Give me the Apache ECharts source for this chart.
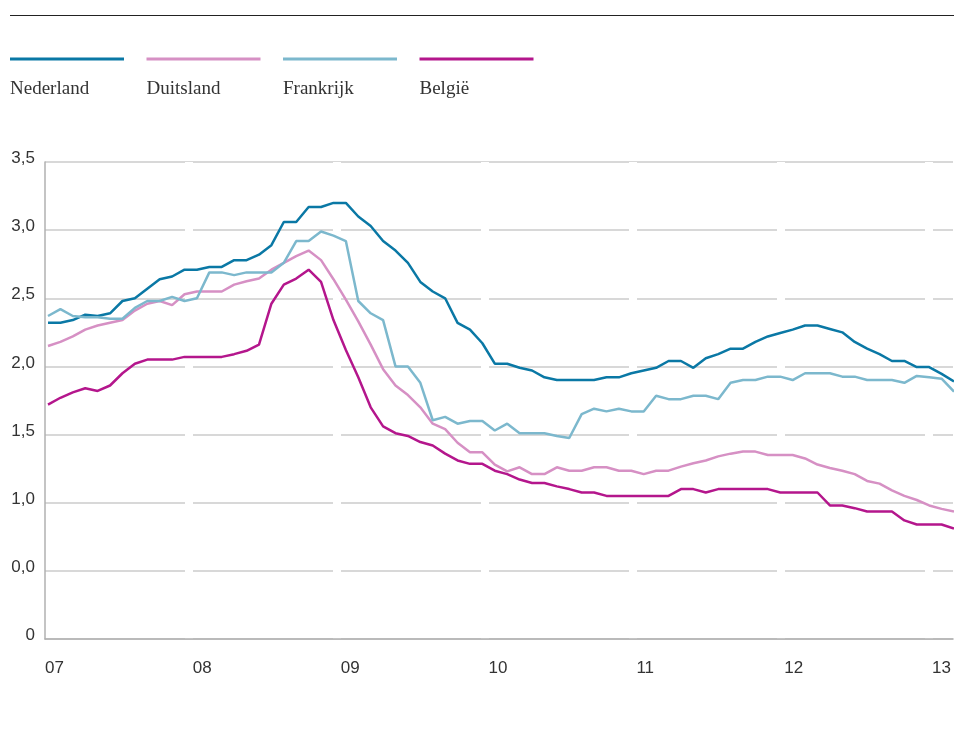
<!DOCTYPE html>
<html>
<head>
<meta charset="utf-8">
<title>Nederland, Duitsland, Frankrijk, België</title>
<script src="https://cdn.jsdelivr.net/npm/echarts@6/dist/echarts.min.js"></script>
<style>
  html, body { margin: 0; padding: 0; background: #fff; }
  #chart { width: 954px; height: 734px; }
</style>
</head>
<body>
<div id="chart"></div>
<script>
// maandcijfers, jan 2007 t/m feb 2013
var nederland = [2.32, 2.32, 2.34, 2.38, 2.37, 2.39, 2.48, 2.50, 2.57, 2.64, 2.66, 2.71,
  2.71, 2.73, 2.73, 2.78, 2.78, 2.82, 2.89, 3.06, 3.06, 3.17, 3.17, 3.20,
  3.20, 3.10, 3.03, 2.92, 2.85, 2.76, 2.62, 2.55, 2.50, 2.32, 2.27, 2.17,
  2.02, 2.02, 1.99, 1.97, 1.92, 1.90, 1.90, 1.90, 1.90, 1.92, 1.92, 1.95,
  1.97, 1.99, 2.04, 2.04, 1.99, 2.06, 2.09, 2.13, 2.13, 2.18, 2.22, 2.245,
  2.27, 2.30, 2.30, 2.275, 2.25, 2.18, 2.13, 2.09, 2.04, 2.04, 1.995, 1.995,
  1.945, 1.89];
var duitsland = [2.15, 2.18, 2.22, 2.27, 2.30, 2.32, 2.34, 2.41, 2.46, 2.48, 2.45, 2.53,
  2.55, 2.55, 2.55, 2.60, 2.625, 2.645, 2.71, 2.76, 2.81, 2.85, 2.78, 2.64,
  2.49, 2.33, 2.16, 1.98, 1.86, 1.79, 1.70, 1.58, 1.54, 1.44, 1.37, 1.37,
  1.28, 1.23, 1.26, 1.21, 1.21, 1.26, 1.235, 1.235, 1.26, 1.26, 1.235, 1.235,
  1.21, 1.235, 1.235, 1.265, 1.29, 1.31, 1.34, 1.36, 1.375, 1.375, 1.35, 1.35,
  1.35, 1.325, 1.28, 1.255, 1.235, 1.21, 1.16, 1.14, 1.09, 1.05, 1.02, 0.98,
  0.955, 0.935];
var frankrijk = [2.37, 2.42, 2.37, 2.36, 2.36, 2.35, 2.35, 2.43, 2.48, 2.48, 2.51, 2.48,
  2.50, 2.69, 2.69, 2.67, 2.69, 2.69, 2.69, 2.76, 2.92, 2.92, 2.99, 2.96,
  2.92, 2.48, 2.39, 2.34, 2.00, 2.00, 1.88, 1.605, 1.63, 1.58, 1.60, 1.60,
  1.53, 1.58, 1.51, 1.51, 1.51, 1.49, 1.475, 1.65, 1.69, 1.67, 1.69, 1.67,
  1.67, 1.785, 1.76, 1.76, 1.785, 1.785, 1.76, 1.88, 1.90, 1.90, 1.925, 1.925,
  1.90, 1.95, 1.95, 1.95, 1.925, 1.925, 1.90, 1.90, 1.90, 1.88, 1.93, 1.92,
  1.91, 1.815];
var belgie = [1.72, 1.77, 1.81, 1.84, 1.82, 1.86, 1.95, 2.02, 2.05, 2.05, 2.05, 2.07,
  2.07, 2.07, 2.07, 2.09, 2.115, 2.16, 2.46, 2.60, 2.645, 2.71, 2.62, 2.34,
  2.12, 1.92, 1.70, 1.56, 1.51, 1.49, 1.445, 1.42, 1.36, 1.31, 1.285, 1.285,
  1.235, 1.21, 1.17, 1.145, 1.145, 1.12, 1.10, 1.075, 1.075, 1.05, 1.05, 1.05,
  1.05, 1.05, 1.05, 1.10, 1.10, 1.075, 1.10, 1.10, 1.10, 1.10, 1.10, 1.075,
  1.075, 1.075, 1.075, 0.98, 0.98, 0.96, 0.935, 0.935, 0.935, 0.87, 0.84, 0.84,
  0.84, 0.81];

var yearLabels = ['07', '08', '09', '10', '11', '12', '13'];
var yLabels = ['0', '0,0', '1,0', '1,5', '2,0', '2,5', '3,0', '3,5'];

var names = ['Nederland', 'Duitsland', 'Frankrijk', 'België'];
var colors = ['#0a78a5', '#d690c4', '#7cb8cd', '#b4168c'];
var values = [nederland, duitsland, frankrijk, belgie];

var chart = echarts.init(document.getElementById('chart'));

// legenda: lijntje boven, naam eronder
var legends = [];
names.forEach(function (name, i) {
  legends.push({
    data: [name], left: 10 + i * 136.5, top: 57.5, padding: 0,
    icon: 'rect', itemWidth: 114, itemHeight: 3,
    formatter: function () { return ''; },
    selectedMode: false
  });
  legends.push({
    data: [name], left: 5 + i * 136.5, top: 80, padding: 0,
    icon: 'rect', itemWidth: 0, itemHeight: 0,
    textStyle: { fontFamily: 'Liberation Serif', fontSize: 19, color: '#333' },
    selectedMode: false
  });
});

var option = {
  animation: false,
  backgroundColor: '#fff',
  graphic: [{
    type: 'line',
    shape: { x1: 10, y1: 15.5, x2: 954, y2: 15.5 },
    style: { stroke: '#222', lineWidth: 1.2 }
  }],
  legend: legends,
  grid: [
    { left: 45, right: 0, top: 162, bottom: 95 },   // assen en rasterlijnen
    { left: 48, right: 0, top: 162, bottom: 95 },   // lijnen
    { left: 41, right: 4, top: 162, bottom: 95 }    // onderbrekingen bij jaarwissel
  ],
  xAxis: [
    {
      gridIndex: 0, type: 'value', min: 0, max: 73.7, interval: 12, z: 3,
      axisLine: { show: true, lineStyle: { color: '#b0b0b0', width: 1.5 } },
      axisTick: { show: false },
      splitLine: { show: false },
      axisLabel: {
        formatter: function (v) { return v % 12 === 0 ? yearLabels[v / 12] : ''; },
        align: 'left', margin: 21, showMaxLabel: false,
        color: '#333', fontSize: 17, fontFamily: 'Liberation Sans'
      }
    },
    { gridIndex: 1, type: 'value', min: 0, max: 73, show: false },
    {
      gridIndex: 2, type: 'value', min: 0, max: 73.7, interval: 12, z: 1,
      axisLine: { show: false }, axisTick: { show: false }, axisLabel: { show: false },
      splitLine: { show: true, showMinLine: false, showMaxLine: false, lineStyle: { color: '#fff', width: 8 } }
    }
  ],
  yAxis: [
    {
      gridIndex: 0, type: 'value', min: 0, max: 3.5, interval: 0.5, z: 0,
      axisLine: { show: true, lineStyle: { color: '#b0b0b0', width: 1.5 } },
      axisTick: { show: false },
      splitLine: { show: true, lineStyle: { color: '#cbcbcb', width: 1.5 } },
      axisLabel: {
        formatter: function (v) { return yLabels[Math.round(v * 2)]; },
        margin: 10, verticalAlign: 'bottom', lineHeight: 7,
        color: '#333', fontSize: 17, fontFamily: 'Liberation Sans'
      }
    },
    { gridIndex: 1, type: 'value', min: 0, max: 3.5, show: false },
    { gridIndex: 2, type: 'value', min: 0, max: 3.5, show: false }
  ],
  series: names.map(function (name, i) {
    return {
      name: name,
      type: 'line',
      xAxisIndex: 1,
      yAxisIndex: 1,
      data: values[i].map(function (v, m) { return [m, v]; }),
      symbol: 'none',
      z: 2,
      lineStyle: { color: colors[i], width: 2.5 },
      itemStyle: { color: colors[i] }
    };
  })
};

chart.setOption(option);
</script>
</body>
</html>
